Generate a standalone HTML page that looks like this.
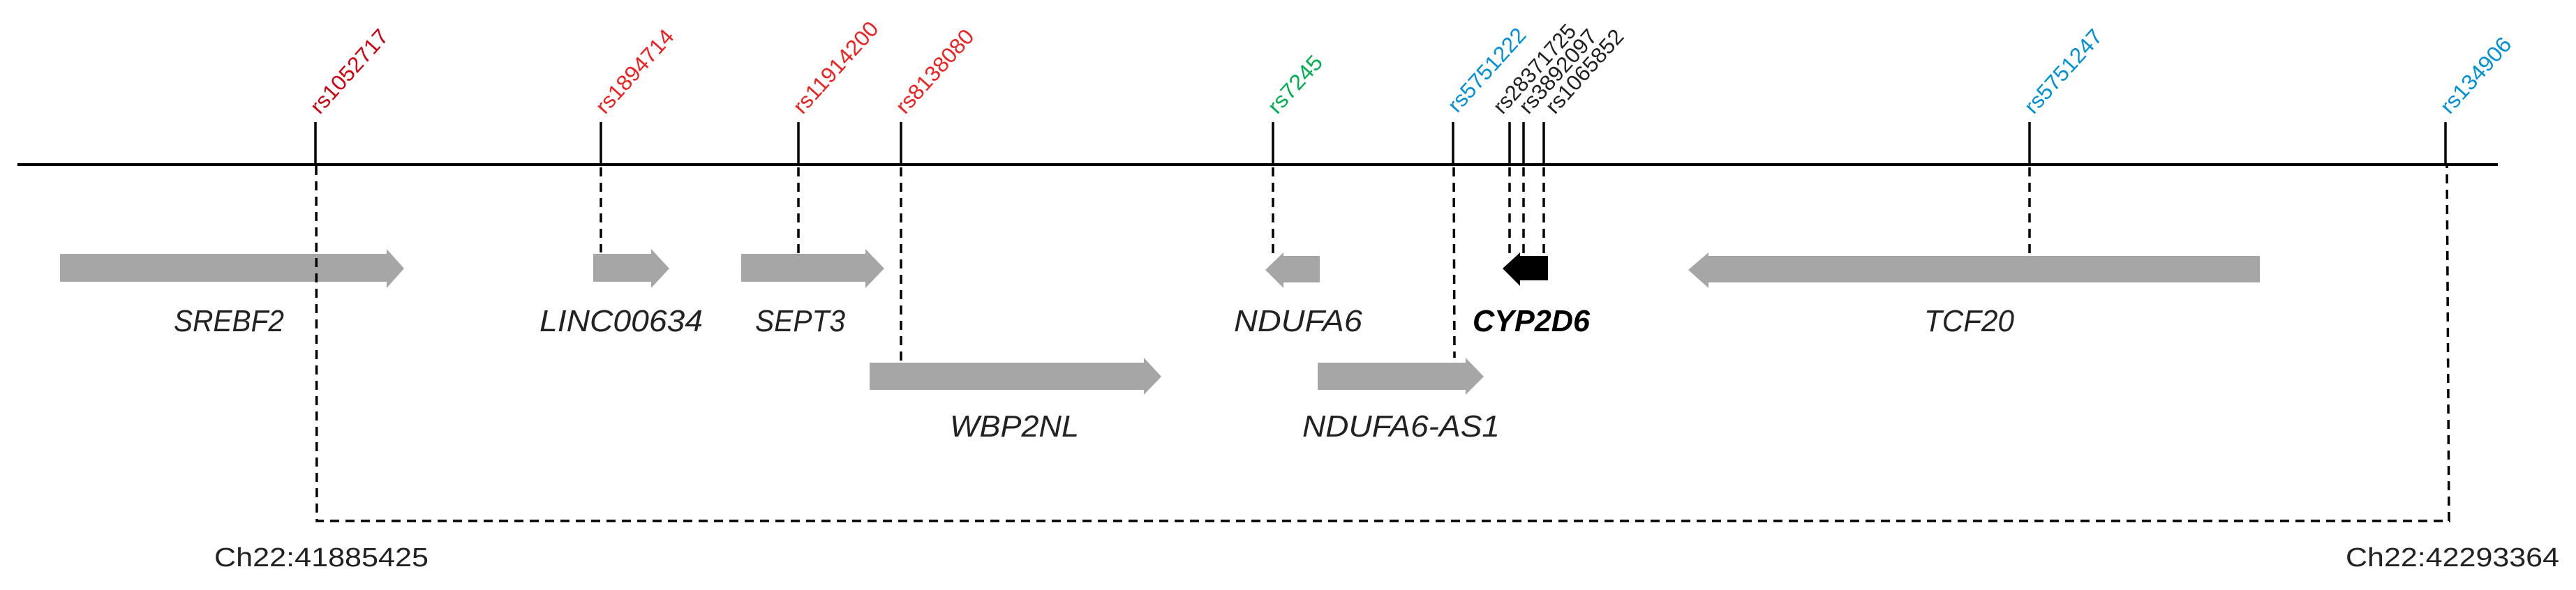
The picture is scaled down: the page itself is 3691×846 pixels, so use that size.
<!DOCTYPE html>
<html><head><meta charset="utf-8"><style>
html,body{margin:0;padding:0;background:#fff;}
svg{display:block;}
.g{font-family:"Liberation Sans",sans-serif;font-style:italic;font-size:44px;fill:#222;}
.rs{font-family:"Liberation Sans",sans-serif;font-size:31px;}
.ch{font-family:"Liberation Sans",sans-serif;font-size:38px;fill:#222;}
</style></head><body>
<svg width="3691" height="846" viewBox="0 0 3691 846" xmlns="http://www.w3.org/2000/svg">
<!-- main line -->
<line x1="25" y1="236" x2="3579" y2="236" stroke="#000" stroke-width="4"/>
<!-- ticks -->
<g stroke="#000" stroke-width="3.5">
<line x1="452" y1="175" x2="452" y2="236"/>
<line x1="861" y1="175" x2="861" y2="236"/>
<line x1="1144" y1="175" x2="1144" y2="236"/>
<line x1="1291" y1="175" x2="1291" y2="236"/>
<line x1="1824" y1="175" x2="1824" y2="236"/>
<line x1="2082" y1="175" x2="2082" y2="236"/>
<line x1="2163" y1="175" x2="2163" y2="236"/>
<line x1="2183" y1="175" x2="2183" y2="236"/>
<line x1="2212" y1="175" x2="2212" y2="236"/>
<line x1="2908" y1="175" x2="2908" y2="236"/>
<line x1="3504" y1="175" x2="3504" y2="236"/>
</g>
<!-- arrows -->
<g fill="#a6a6a6">
<polygon points="86,364 554,364 554,357 579,385 554,413 554,404 86,404"/>
<polygon points="850,364 933,364 933,357 959,385 933,413 933,404 850,404"/>
<polygon points="1062,364 1240,364 1240,357 1267,385 1240,413 1240,404 1062,404"/>
<polygon points="1246,520 1639,520 1639,513 1664,540 1639,566 1639,559 1246,559"/>
<polygon points="1891,367 1839,367 1839,362 1813,387 1839,413 1839,405 1891,405"/>
<polygon points="1888,520 2100,520 2100,513 2126,540 2100,566 2100,559 1888,559"/>
<polygon points="3238,367 2448,367 2448,362 2419,387 2448,413 2448,405 3238,405"/>
</g>
<polygon points="2218,367 2178,367 2178,362 2153,385 2178,410 2178,402 2218,402" fill="#000"/>
<!-- dashed -->
<g stroke="#000" stroke-width="3.5" fill="none" stroke-dasharray="13,9">
<polyline points="453,238 454,747 3509,747 3506,238"/>
<line x1="861" y1="240" x2="861" y2="362"/>
<line x1="1144" y1="240" x2="1144" y2="365"/>
<line x1="1291" y1="240" x2="1291" y2="520"/>
<line x1="1824" y1="240" x2="1824" y2="367"/>
<line x1="2083" y1="240" x2="2084" y2="513"/>
<line x1="2163" y1="240" x2="2163" y2="367"/>
<line x1="2183" y1="240" x2="2183" y2="367"/>
<line x1="2212" y1="240" x2="2212" y2="367"/>
<line x1="2908" y1="240" x2="2908" y2="367"/>
</g>
<!-- gene labels -->
<text class="g" x="249" y="475" textLength="158" lengthAdjust="spacingAndGlyphs">SREBF2</text>
<text class="g" x="773" y="475" textLength="234" lengthAdjust="spacingAndGlyphs">LINC00634</text>
<text class="g" x="1082" y="475" textLength="129" lengthAdjust="spacingAndGlyphs">SEPT3</text>
<text class="g" x="1768" y="475" textLength="184" lengthAdjust="spacingAndGlyphs">NDUFA6</text>
<text class="g" x="2110" y="475" textLength="168" lengthAdjust="spacingAndGlyphs" style="font-weight:bold;fill:#000">CYP2D6</text>
<text class="g" x="2757" y="475" textLength="129" lengthAdjust="spacingAndGlyphs">TCF20</text>
<text class="g" x="1361" y="626" textLength="185" lengthAdjust="spacingAndGlyphs">WBP2NL</text>
<text class="g" x="1866" y="626" textLength="283" lengthAdjust="spacingAndGlyphs">NDUFA6-AS1</text>
<text class="ch" x="307" y="812" textLength="307" lengthAdjust="spacingAndGlyphs">Ch22:41885425</text>
<text class="ch" x="3361" y="812" textLength="306" lengthAdjust="spacingAndGlyphs">Ch22:42293364</text>
<!-- rs labels -->
<g class="rs">
<text transform="translate(458,165) rotate(-48)" fill="#d00010" textLength="150" lengthAdjust="spacingAndGlyphs">rs1052717</text>
<text transform="translate(867,165) rotate(-48)" fill="#f02020" textLength="150" lengthAdjust="spacingAndGlyphs">rs1894714</text>
<text transform="translate(1150,165) rotate(-48)" fill="#f02020" textLength="165" lengthAdjust="spacingAndGlyphs">rs11914200</text>
<text transform="translate(1297,165) rotate(-48)" fill="#f02020" textLength="150" lengthAdjust="spacingAndGlyphs">rs8138080</text>
<text transform="translate(1830,165) rotate(-48)" fill="#00b050" textLength="100" lengthAdjust="spacingAndGlyphs">rs7245</text>
<text transform="translate(2088,163) rotate(-48)" fill="#0090d8" textLength="150" lengthAdjust="spacingAndGlyphs">rs5751222</text>
<text transform="translate(2153,165) rotate(-48)" fill="#222" textLength="160" lengthAdjust="spacingAndGlyphs">rs28371725</text>
<text transform="translate(2190,165) rotate(-48)" fill="#222" textLength="150" lengthAdjust="spacingAndGlyphs">rs3892097</text>
<text transform="translate(2228,165) rotate(-48)" fill="#222" textLength="150" lengthAdjust="spacingAndGlyphs">rs1065852</text>
<text transform="translate(2914,165) rotate(-48)" fill="#0090d8" textLength="150" lengthAdjust="spacingAndGlyphs">rs5751247</text>
<text transform="translate(3510,165) rotate(-48)" fill="#0090d8" textLength="135" lengthAdjust="spacingAndGlyphs">rs134906</text>
</g>
</svg>
</body></html>
